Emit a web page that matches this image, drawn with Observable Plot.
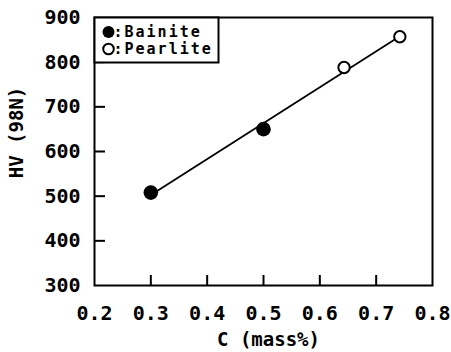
<!DOCTYPE html>
<html>
<head>
<meta charset="utf-8">
<script src="https://cdn.jsdelivr.net/npm/d3@7"></script>
<script src="https://cdn.jsdelivr.net/npm/@observablehq/plot@0.6"></script>
<style>
  body { margin: 0; background: #fff; }
  #chart { width: 451px; height: 352px; }
</style>
</head>
<body>
<div id="chart"></div>
<script>
// Vickers hardness (98 N load) against carbon content
const carbon = [0.3, 0.5, 0.643, 0.742];
const hardness = [508, 650, 788, 857];
const structure = ["Bainite", "Bainite", "Pearlite", "Pearlite"];

const xTicks = [0.2, 0.3, 0.4, 0.5, 0.6, 0.7, 0.8];
const yTicks = [300, 400, 500, 600, 700, 800, 900];

const legendLabels = [":Bainite", ":Pearlite"];

const W = 451, H = 352;
const mL = 94, mR = 19, mT = 17, mB = 67;
const innerW = W - mL - mR, innerH = H - mT - mB;
const font = "'DejaVu Sans Mono', monospace";
const rowGap = 17;

const rows = carbon.map((c, i) => ({c, hv: hardness[i], s: structure[i]}));
const bainite = rows.filter(d => d.s === "Bainite");
const pearlite = rows.filter(d => d.s === "Pearlite");

const chart = Plot.plot({
  width: W,
  height: H,
  marginLeft: mL,
  marginRight: mR,
  marginTop: mT,
  marginBottom: mB,
  style: {fontFamily: font, fontWeight: "bold", fontSize: "19px", background: "white", color: "black"},
  x: {domain: [0.2, 0.8]},
  y: {domain: [300, 900]},
  marks: [
    // inward tick marks on the interior grid values
    Plot.tickX(xTicks.slice(1, -1), {x: d => d, insetTop: innerH - 10, strokeWidth: 2}),
    Plot.tickY(yTicks.slice(1, -1), {y: d => d, insetRight: innerW - 11, strokeWidth: 2}),
    Plot.axisX(xTicks, {tickSize: 0, tickPadding: 20, tickFormat: d => d.toFixed(1), label: null, fontSize: 20, fontWeight: "bold"}),
    Plot.axisY(yTicks, {tickSize: 0, tickPadding: 14, label: null, fontSize: 20, fontWeight: "bold"}),
    // fitted line through all four specimens
    Plot.linearRegressionY(rows, {x: "c", y: "hv", ci: 0, stroke: "black", strokeWidth: 1.8}),
    Plot.dot(bainite, {x: "c", y: "hv", r: 7.3, fill: "black", stroke: "none"}),
    Plot.dot(pearlite, {x: "c", y: "hv", r: 5.7, fill: "white", stroke: "black", strokeWidth: 2}),
    Plot.frame({stroke: "black", strokeWidth: 2}),
    // legend box in the upper-left corner
    Plot.frame({fill: "white", stroke: "black", strokeWidth: 2, insetRight: innerW - 124, insetBottom: innerH - 45}),
    Plot.dot([0], {frameAnchor: "top-left", dx: 14, dy: 14.5, r: 6, fill: "black", stroke: "none"}),
    Plot.dot([0], {frameAnchor: "top-left", dx: 14, dy: 14.5 + rowGap, r: 5.3, fill: "white", stroke: "black", strokeWidth: 2}),
    Plot.text([legendLabels[0]], {frameAnchor: "top-left", dx: 19, dy: 14.5, text: d => d, textAnchor: "start", lineAnchor: "middle", fontSize: 15, fontWeight: "bold"}),
    Plot.text([legendLabels[1]], {frameAnchor: "top-left", dx: 19, dy: 14.5 + rowGap, text: d => d, textAnchor: "start", lineAnchor: "middle", fontSize: 15, fontWeight: "bold"}),
    // axis titles
    Plot.text(["C (mass%)"], {frameAnchor: "bottom", dx: 5, dy: 54, text: d => d, textAnchor: "middle", lineAnchor: "middle", fontSize: 19, fontWeight: "bold"}),
    Plot.text(["HV (98N)"], {frameAnchor: "left", dx: -78, dy: -19, rotate: -90, text: d => d, textAnchor: "middle", lineAnchor: "middle", fontSize: 19, fontWeight: "bold"})
  ]
});

// widen the legend lettering
d3.select(chart).selectAll("text")
  .filter(function () { return legendLabels.includes(this.textContent); })
  .attr("letter-spacing", 2);

document.getElementById("chart").append(chart);
</script>
</body>
</html>
